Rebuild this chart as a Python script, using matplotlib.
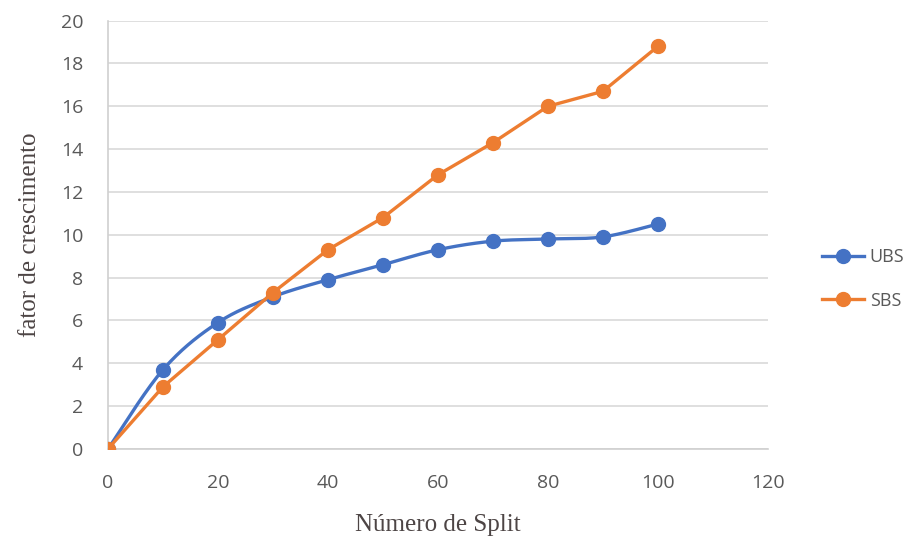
import matplotlib.pyplot as plt
import numpy as np

splits = [0, 10, 20, 30, 40, 50, 60, 70, 80, 90, 100]
ubs = [0, 3.7, 5.9, 7.1, 7.9, 8.6, 9.3, 9.7, 9.8, 9.9, 10.5]
sbs = [0, 2.9, 5.1, 7.3, 9.3, 10.8, 12.8, 14.3, 16.0, 16.7, 18.8]

x_ticks = [0, 20, 40, 60, 80, 100, 120]
y_ticks = [0, 2, 4, 6, 8, 10, 12, 14, 16, 18, 20]


def smooth_line(x, y, n=30):
    # Excel-style smoothed line: cubic bezier with Catmull-Rom control points
    x = np.asarray(x, float)
    y = np.asarray(y, float)
    px = np.concatenate([[x[0]], x, [x[-1]]])
    py = np.concatenate([[y[0]], y, [y[-1]]])
    xs, ys = [], []
    t = np.linspace(0, 1, n)
    for i in range(1, len(px) - 2):
        p0 = np.array([px[i], py[i]])
        p3 = np.array([px[i + 1], py[i + 1]])
        p1 = p0 + (np.array([px[i + 1], py[i + 1]]) - np.array([px[i - 1], py[i - 1]])) / 6
        p2 = p3 - (np.array([px[i + 2], py[i + 2]]) - np.array([px[i], py[i]])) / 6
        b = ((1 - t) ** 3)[:, None] * p0 + (3 * (1 - t) ** 2 * t)[:, None] * p1 \
            + (3 * (1 - t) * t ** 2)[:, None] * p2 + (t ** 3)[:, None] * p3
        xs.extend(b[:, 0])
        ys.extend(b[:, 1])
    return xs, ys


fig = plt.figure(figsize=(9.24, 5.44), dpi=100)
ax = fig.add_axes([0.117, 0.175, 0.714, 0.787])

blue = '#4472C4'
orange = '#ED7D31'

# UBS drawn as smoothed line, SBS as straight segments
sx, sy = smooth_line(splits, ubs)
ax.plot(sx, sy, color=blue, lw=2.4, zorder=3)
ax.plot(splits, ubs, 'o', color=blue, ms=10, zorder=4)
ax.plot([], [], color=blue, lw=2.4, marker='o', ms=10, label='UBS')

ax.plot(splits, sbs, color=orange, lw=2.4, marker='o', ms=10, zorder=5, label='SBS')

ax.set_xlim(0, 120)
ax.set_ylim(0, 20)
ax.set_xticks(x_ticks)
ax.set_yticks(y_ticks)
ax.grid(True, axis='y', color='#d9d9d9', lw=1.2, zorder=0)
ax.tick_params(length=0, labelsize=14, labelcolor='#595959')
ax.tick_params(axis='x', pad=18)
ax.tick_params(axis='y', pad=18)
for lab in ax.get_xticklabels() + ax.get_yticklabels():
    lab.set_family('Open Sans')
for side in ['top', 'right']:
    ax.spines[side].set_visible(False)
for side in ['left', 'bottom']:
    ax.spines[side].set_color('#d0d0d0')
    ax.spines[side].set_linewidth(1.2)

ax.set_xlabel('Número de Split', family='Liberation Serif', fontsize=18,
              color='#4d4545', labelpad=16)
ax.set_ylabel('fator de crescimento', family='Liberation Serif', fontsize=18,
              color='#4d4545', labelpad=14)

leg = fig.legend(loc='center left', bbox_to_anchor=(0.872, 0.487), frameon=False,
                 handlelength=2.3, labelspacing=1.4, handletextpad=0.35,
                 prop={'family': 'Open Sans', 'size': 13})
for t in leg.get_texts():
    t.set_color('#595959')

fig.savefig('out.png', dpi=100)
